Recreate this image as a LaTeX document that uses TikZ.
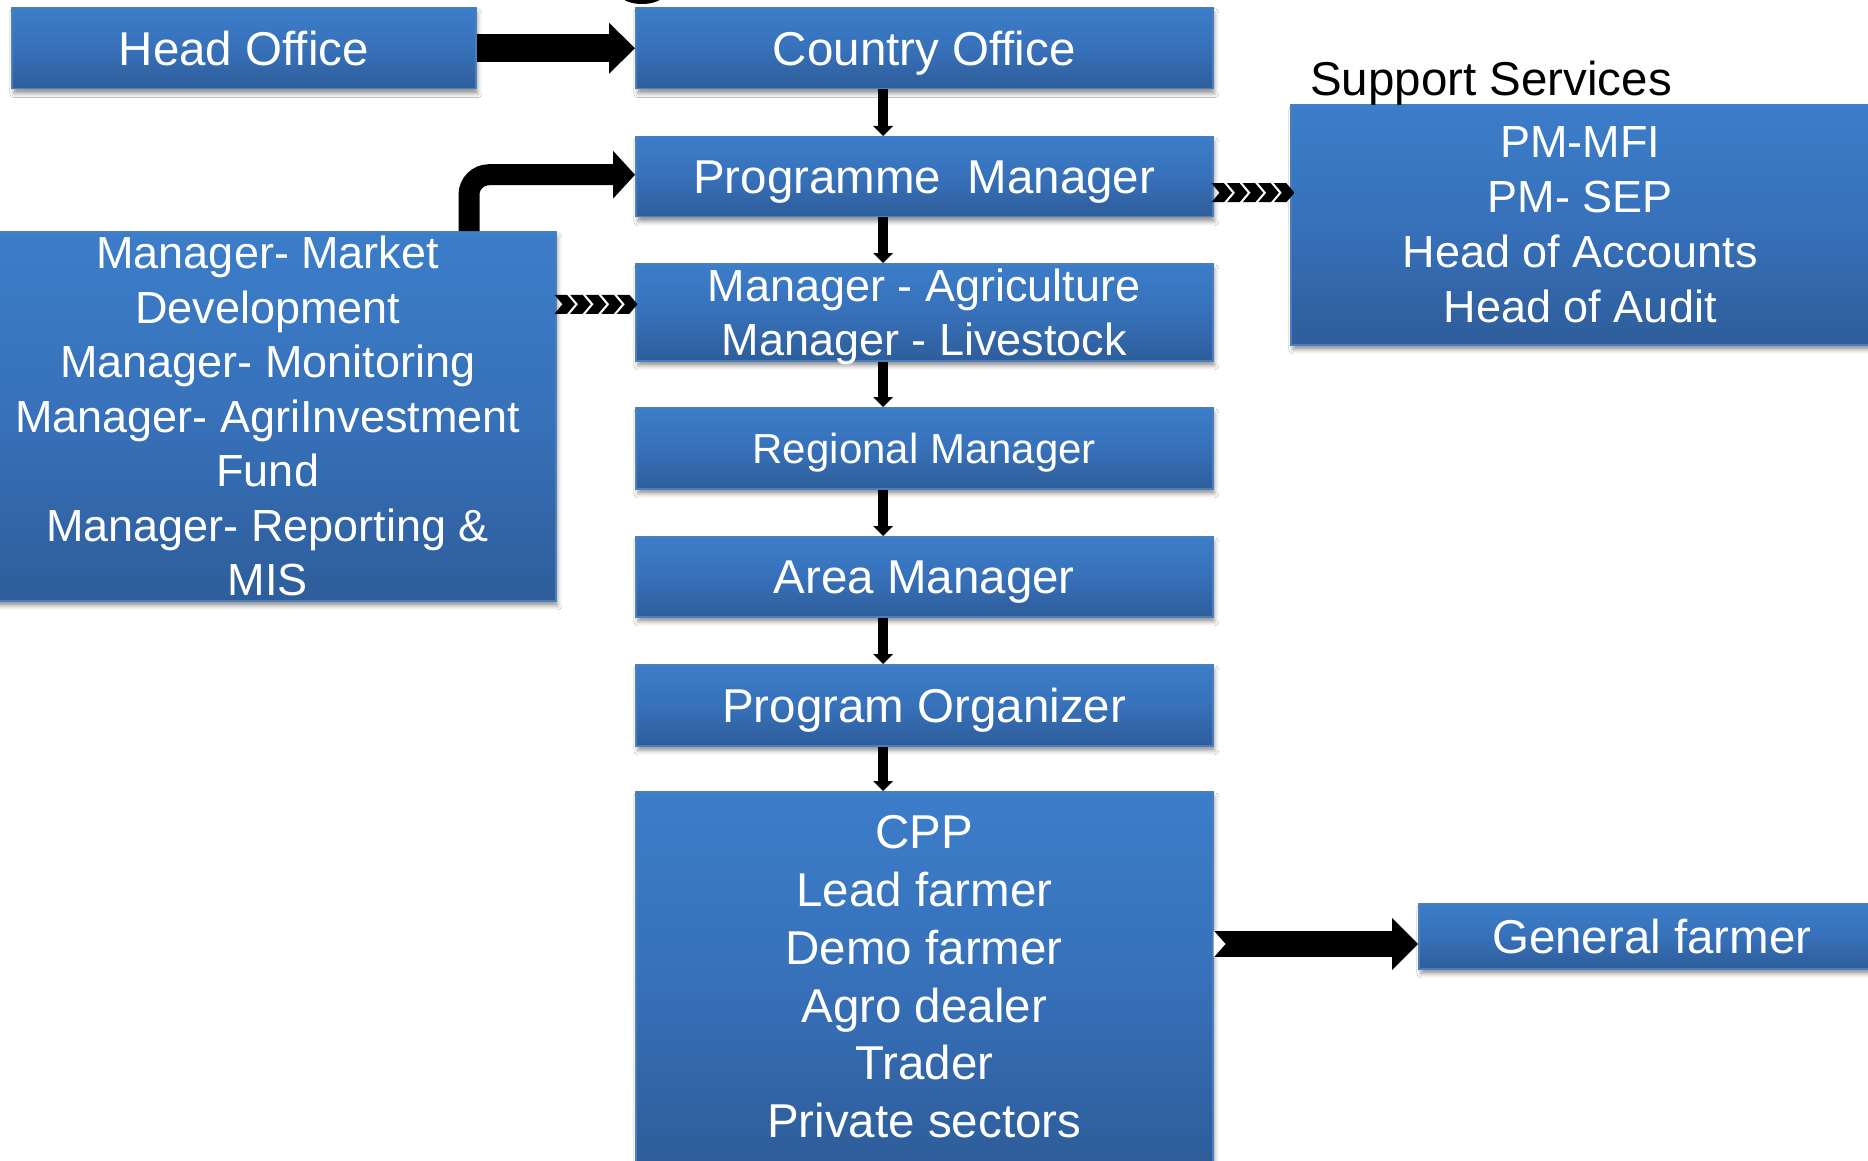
\documentclass[tikz,border=0pt]{standalone}
\usepackage{fontspec}
\setmainfont{Liberation Sans}
\usetikzlibrary{arrows.meta,calc,shadows.blur}
\definecolor{boxtop}{HTML}{3C7DC9}
\definecolor{boxmid}{HTML}{3771BA}
\definecolor{boxbot}{HTML}{2E5D9A}
\definecolor{boxedge}{HTML}{4A7EBD}
\tikzset{
  box/.style={draw=boxedge, line width=1.5pt, top color=boxtop, bottom color=boxbot, middle color=boxmid,
    text=white, align=center, inner sep=0pt, anchor=north west,
    blur shadow={shadow xshift=2pt, shadow yshift=-5pt, shadow blur radius=4pt, shadow opacity=40}},
  bigfont/.style={font=\fontsize{47.5}{57.9}\selectfont},
  midfont/.style={font=\fontsize{45}{54.5}\selectfont},
  oneline/.style={text height=34pt, text depth=0pt},
  vline/.style={line width=10pt, -{Triangle[length=10pt,width=20pt,line width=0pt]}},
  blockarrow/.style={line width=28pt, -{Triangle[length=26pt,width=51pt,line width=0pt]}},
  chevrons/.pic={
    \foreach \i in {0,...,4}{
      \fill[black] ({\i*15.6},-9.5) -- ++(12.5,0) -- ++(8,9.5) -- ++(-8,9.5) -- ++(-12.5,0) -- ++(8,-9.5) -- cycle;
    }
  }
}
\begin{document}
\begin{tikzpicture}[x=1pt,y=-1pt]
\path[use as bounding box, clip] (0,0) rectangle (1868,1161);
\fill[white] (0,0) rectangle (1868,1161);

% top partial arc
\fill[black] (642,-6) ellipse [x radius=22pt, y radius=10pt];

% boxes
\node[box, bigfont, oneline, minimum width=464pt, minimum height=81pt] (ho) at (11,7) {Head Office};
\node[box, bigfont, oneline, minimum width=577pt, minimum height=81pt] (co) at (635,7) {Country Office};
\node[box, bigfont, oneline, minimum width=577pt, minimum height=80pt] (pm) at (635,136) {Programme\ \ Manager};
\node[box, font=\fontsize{45}{53.6}\selectfont, text depth=0pt, minimum width=577pt, minimum height=97pt] (ag) at (635,263) {Manager - Agriculture\\Manager - Livestock};
\node[box, font=\fontsize{42}{50}\selectfont, text height=30pt, text depth=0pt, minimum width=577pt, minimum height=81pt] (rm) at (635,407) {Regional Manager};
\node[box, bigfont, oneline, minimum width=577pt, minimum height=80pt] (arm) at (635,536) {Area Manager};
\node[box, bigfont, oneline, minimum width=577pt, minimum height=81pt] (po) at (635,664) {Program Organizer};
\node[box, bigfont, minimum width=577pt, minimum height=370pt] (cpp) at (635,791) {CPP\\Lead farmer\\Demo farmer\\Agro dealer\\Trader\\Private sectors};
\node[box, midfont, minimum width=576pt, minimum height=369pt] (lb) at (-21,231) {Manager- Market\\Development\\Manager- Monitoring\\Manager- AgriInvestment\\Fund\\Manager- Reporting \&\\MIS};
\node[box, font=\fontsize{45}{54.8}\selectfont, minimum width=579pt, minimum height=240pt] (ss) at (1290,104) {PM-MFI\\PM- SEP\\Head of Accounts\\Head of Audit};
\node[box, bigfont, oneline, minimum width=466pt, minimum height=65pt] (gf) at (1418,903) {General farmer};
\node[bigfont, anchor=base west, inner sep=0pt, text=black] (sslabel) at (1310,96) {Support Services};

% vertical arrows
\coordinate (ax) at (883,0);
\foreach \a/\b in {co/pm, pm/ag, ag/rm, rm/arm, arm/po, po/cpp}
  \draw[vline] (\a.south -| ax) -- (\b.north -| ax);

% block arrow head office -> country office
\draw[blockarrow] (ho.east) -- (co.west);

% elbow arrow left box -> programme manager
\draw[line width=21pt, rounded corners=20pt, -{Triangle[length=22pt,width=48pt,line width=0pt]}]
  ($(lb.north west)+(490,0)$) |- ($(pm.west)+(0,-2)$);

% chevron arrows
\pic at ($(lb.east |- ag.center)+(-2,-8)$) {chevrons};
\pic at ($(pm.east)+(-2,16)$) {chevrons};

% cpp -> general farmer
\coordinate (gfy) at (0,944);
\draw[line width=26pt, -{Triangle[length=26pt,width=52pt,line width=0pt]}] (cpp.east |- gfy) -- (gf.west |- gfy);
\fill[white] (cpp.east |- gfy) ++(0,-13.5) -- ++(12,13.5) -- ++(-12,13.5) -- cycle;
\end{tikzpicture}
\end{document}
